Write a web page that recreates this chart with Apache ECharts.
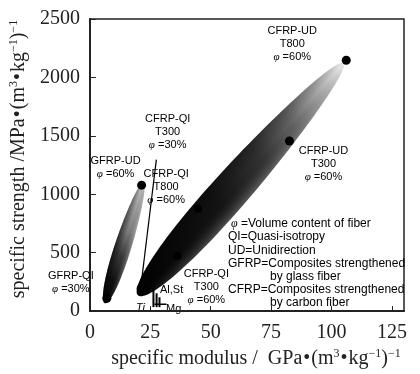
<!DOCTYPE html>
<html>
<head>
<meta charset="utf-8">
<script src="https://cdn.jsdelivr.net/npm/echarts@6/dist/echarts.min.js"></script>
<style>
html, body { margin: 0; padding: 0; background: #fff; }
#chart { width: 420px; height: 374px; }
</style>
</head>
<body>
<div id="chart"></div>
<script>
// shaded property zones, tip to tip: [modulus1, strength1, modulus2, strength2]
const gfrpZone = [6.2, 67, 22.2, 1103];
const cfrpZone = [19.9, 135, 104.9, 2121];

// composite points
const pointNames = ["GFRP-QI", "GFRP-UD", "CFRP-QI T300 30", "CFRP-QI T300 60", "CFRP-QI T800", "CFRP-UD T300", "CFRP-UD T800"];
const modulus = [7.0, 21.4, 21.0, 36.2, 44.8, 82.6, 106.1];
const strength = [109, 1078, 194, 471, 875, 1456, 2147];
const pointLabels = [
  "GFRP-QI\n{p|φ} =30%",
  "GFRP-UD\n{p|φ} =60%",
  "CFRP-QI\nT300\n{p|φ} =30%",
  "CFRP-QI\nT300\n{p|φ} =60%",
  "CFRP-QI\nT800\n{p|φ} =60%",
  "CFRP-UD\nT300\n{p|φ} =60%",
  "CFRP-UD\nT800\n{p|φ} =60%"
];

// metals near the origin: [modulus, strength low, strength high]
const metalBars = [[26.3, 34, 194], [27.6, 34, 152], [28.8, 34, 118]];
const mgLine = [[26.7, 59], [31.7, 59]];

// leader from the CFRP-QI T300 30% label
const leader = [[27.5, 1296], [21.0, 194]];

const legendLines = [
  "{p|φ} =Volume content of fiber",
  "QI=Quasi-isotropy",
  "UD=Unidirection",
  "GFRP=Composites strengthened",
  "by glass fiber",
  "CFRP=Composites strengthened",
  "by carbon fiber"
];

// look of the zones
const zoneStyle = [
  {
    ratio: 0.13, skew: 0.15,
    along: [
      { offset: 0, color: "#000" },
      { offset: 0.2, color: "#111" },
      { offset: 0.4, color: "#3a3a3a" },
      { offset: 0.6, color: "#808080" },
      { offset: 0.85, color: "#aaa" },
      { offset: 1, color: "#c4c4c4" }
    ],
    across: [
      { offset: 0, color: "rgba(0,0,0,0.6)" },
      { offset: 0.5, color: "rgba(0,0,0,0)" },
      { offset: 1, color: "rgba(255,255,255,0.3)" }
    ]
  },
  {
    ratio: 0.12, skew: 0.2,
    along: [
      { offset: 0, color: "#000" },
      { offset: 0.4, color: "#141414" },
      { offset: 0.6, color: "#333" },
      { offset: 0.75, color: "#666" },
      { offset: 0.88, color: "#aaa" },
      { offset: 1, color: "#eee" }
    ],
    across: [
      { offset: 0, color: "rgba(0,0,0,0.35)" },
      { offset: 0.5, color: "rgba(0,0,0,0)" },
      { offset: 1, color: "rgba(255,255,255,0.25)" }
    ]
  }
];

const labelOffset = {
  "GFRP-QI": [-36, -16],
  "GFRP-UD": [-26, -18],
  "CFRP-QI T300 30": [27, -156],
  "CFRP-QI T300 60": [29, 31],
  "CFRP-QI T800": [-32, -22],
  "CFRP-UD T300": [34, 23],
  "CFRP-UD T800": [-54, -16]
};

const sans = "Liberation Sans";
const serif = "Liberation Serif";
const richP = { p: { fontStyle: "italic", fontFamily: serif, fontSize: 11, color: "#000" } };
const richSup = {
  s: { fontFamily: serif, fontSize: 12, color: "#222", padding: [0, 0, 10, 0] },
  b: { fontFamily: serif, fontSize: 20, color: "#222", padding: [0, 1, 0, 1] }
};

function zoneItem(params, api) {
  let p1 = api.coord([api.value(0), api.value(1)]);
  let p2 = api.coord([api.value(2), api.value(3)]);
  let st = zoneStyle[params.dataIndex];
  let dx = p2[0] - p1[0], dy = p2[1] - p1[1];
  let len = Math.sqrt(dx * dx + dy * dy);
  let ux = dx / len, uy = dy / len;
  let nx = uy, ny = -ux;
  let a = len / 2, b = a * st.ratio;
  let cx = (p1[0] + p2[0]) / 2, cy = (p1[1] + p2[1]) / 2;
  let pts = [];
  for (let i = 0; i < 120; i++) {
    let th = (i / 120) * Math.PI * 2;
    let t = Math.cos(th);
    let w = b * Math.sin(th) * (1 - st.skew * t);
    pts.push([cx + ux * a * t + nx * w, cy + uy * a * t + ny * w]);
  }
  return {
    type: "group",
    children: [
      {
        type: "polygon",
        shape: { points: pts },
        style: { fill: new echarts.graphic.LinearGradient(p1[0], p1[1], p2[0], p2[1], st.along, true) }
      },
      {
        type: "polygon",
        shape: { points: pts },
        style: {
          fill: new echarts.graphic.LinearGradient(cx + nx * b, cy + ny * b, cx - nx * b, cy - ny * b, st.across, true)
        }
      }
    ]
  };
}

function metalItem(params, api) {
  let top = api.coord([api.value(0), api.value(2)]);
  let bot = api.coord([api.value(0), api.value(1)]);
  return {
    type: "line",
    shape: { x1: top[0], y1: top[1], x2: bot[0], y2: bot[1] },
    style: { stroke: "#000", lineWidth: 2 }
  };
}

let points = pointNames.map((n, i) => ({
  value: [modulus[i], strength[i]],
  symbolSize: i == 2 || i == 3 || i == 4 ? 8 : 9,
  label: { formatter: pointLabels[i], offset: labelOffset[n] }
}));

let legendGraphics = legendLines.map((s, i) => ({
  type: "text",
  left: s.indexOf("by ") == 0 ? 270 : (i == 0 ? 231 : 228),
  top: 218 + i * 13.1,
  style: { text: s, font: "12px '" + sans + "'", fill: "#000", rich: { p: { fontStyle: "italic", fontFamily: serif, fontSize: 12 } } }
}));

let chart = echarts.init(document.getElementById("chart"), null, { renderer: "canvas" });
chart.setOption({
  animation: false,
  backgroundColor: "#fff",
  grid: { left: 88, right: 16, top: 19, bottom: 58, show: true, borderColor: "#222", borderWidth: 1.5 },
  xAxis: {
    type: "value",
    min: 0,
    max: 130,
    interval: 25,
    name: "specific modulus /  GPa{b|•}(m{s|3}{b|•}kg{s|−1}){s|−1}",
    nameLocation: "middle",
    nameGap: 35,
    nameTextStyle: { fontFamily: serif, fontSize: 20, color: "#222", rich: richSup, padding: [0, 0, 0, 18] },
    axisLine: { lineStyle: { color: "#222", width: 2 } },
    axisTick: { inside: true, length: 5, lineStyle: { color: "#222" } },
    axisLabel: { fontFamily: serif, fontSize: 20, color: "#222", margin: 12, showMaxLabel: false },
    splitLine: { show: false }
  },
  yAxis: {
    type: "value",
    min: 0,
    max: 2500,
    interval: 500,
    name: "specific strength /MPa{b|•}(m{s|3}{b|•}kg{s|−1}){s|−1}",
    nameLocation: "middle",
    nameGap: 56,
    nameTextStyle: { fontFamily: serif, fontSize: 20, color: "#222", rich: richSup, padding: [0, 0, 0, 12] },
    axisLine: { lineStyle: { color: "#222", width: 2 } },
    axisTick: { inside: true, length: 6, lineStyle: { color: "#222" } },
    axisLabel: { fontFamily: serif, fontSize: 20, color: "#222", margin: 10, formatter: (v) => String(v) },
    splitLine: { show: false }
  },
  graphic: legendGraphics.concat([
    { type: "text", left: 136, top: 302, style: { text: "Ti", font: "italic 11px '" + sans + "'", fill: "#000" } },
    { type: "text", left: 160, top: 284, style: { text: "Al,St", font: "11px '" + sans + "'", fill: "#000" } },
    { type: "text", left: 166, top: 303, style: { text: "Mg", font: "11px '" + sans + "'", fill: "#000" } }
  ]),
  series: [
    {
      type: "custom",
      name: "zones",
      renderItem: zoneItem,
      encode: { x: [0, 2], y: [1, 3] },
      data: [gfrpZone, cfrpZone],
      z: 1
    },
    {
      type: "custom",
      name: "metals",
      renderItem: metalItem,
      encode: { x: 0, y: [1, 2] },
      data: metalBars,
      z: 3
    },
    {
      type: "line",
      name: "Mg",
      data: mgLine,
      symbol: "none",
      lineStyle: { color: "#000", width: 1.5 },
      z: 3
    },
    {
      type: "line",
      name: "leader",
      data: leader,
      symbol: "none",
      lineStyle: { color: "#000", width: 1.2 },
      z: 3
    },
    {
      type: "scatter",
      name: "composites",
      data: points,
      itemStyle: { color: "#000", opacity: 1 },
      label: {
        show: true,
        position: "inside",
        fontFamily: sans,
        fontSize: 11,
        lineHeight: 13,
        color: "#000",
        align: "center",
        rich: richP
      },
      z: 4
    }
  ]
});
</script>
</body>
</html>
